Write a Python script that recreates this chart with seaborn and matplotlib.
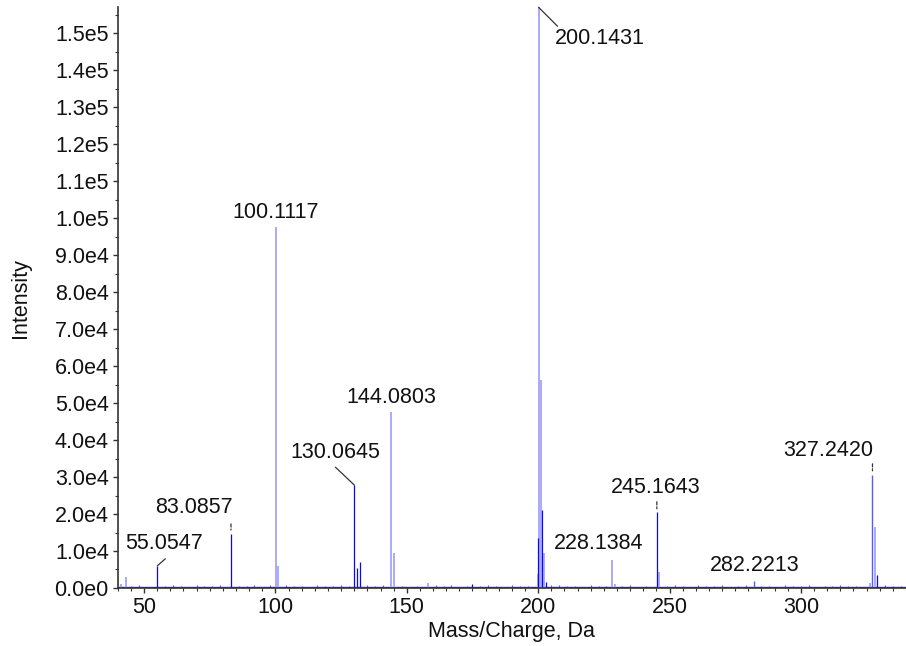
import matplotlib
matplotlib.use('Agg')
import matplotlib.pyplot as plt
from matplotlib.ticker import MultipleLocator, FuncFormatter
import numpy as np
import pandas as pd
import seaborn as sns

# stick spectrum (m/z, intensity, shade of the stick)
peak_mz = [41.1, 43.0, 55.0547, 83.0857, 100.1117, 101.11, 130.0645, 131.07,
           132.07, 144.0803, 145.08, 157.9, 175.0, 199.8, 200.05, 200.1431,
           201.15, 201.3, 202.15, 203.1, 228.1384, 229.14, 245.1643, 246.17,
           282.2213, 326.2, 327.2420, 328.25, 329.0]
peak_int = [1000, 3000, 6000, 14600, 97600, 5900, 27800, 5400,
            7000, 47500, 9400, 1300, 1000, 3800, 13500, 157000,
            56200, 21000, 9500, 1500, 7600, 1200, 20600, 4400,
            2000, 1300, 30600, 16600, 3600]
peak_shade = ['light', 'light', 'dark', 'dark', 'light', 'light', 'dark', 'dark',
              'dark', 'light', 'light', 'light', 'dark', 'light', 'dark', 'light',
              'light', 'dark', 'light', 'dark', 'light', 'light', 'dark', 'light',
              'mid', 'light', 'mid', 'light', 'dark']

# low level noise along the baseline
noise_mz = [45, 48, 52, 58, 61, 64, 67, 70, 73, 76, 79, 86, 89, 92, 95, 98,
            104, 107, 110, 113, 116, 119, 122, 125, 128, 135, 138, 141, 148,
            151, 154, 161, 164, 167, 170, 173, 178, 181, 184, 187, 190, 193,
            196, 205, 208, 211, 214, 217, 220, 223, 226, 232, 235, 238, 241,
            249, 252, 255, 258, 261, 264, 267, 270, 273, 276, 279, 285, 288,
            291, 294, 297, 300, 303, 306, 309, 312, 315, 318, 321, 324, 332,
            335, 338]
noise_int = [500, 700, 400, 600, 800, 500, 400, 900, 600, 500, 700, 600, 500,
             800, 400, 900, 700, 500, 600, 400, 800, 500, 600, 700, 500, 800,
             600, 700, 500, 400, 600, 700, 500, 900, 400, 600, 500, 700, 600,
             400, 800, 500, 600, 900, 700, 500, 600, 400, 700, 500, 600, 500,
             700, 400, 600, 500, 800, 600, 400, 700, 500, 600, 800, 400, 500,
             700, 600, 500, 400, 700, 600, 500, 800, 400, 600, 500, 700, 600,
             500, 400, 800, 600, 500]

# labelled peaks
label_mz = [55.0547, 83.0857, 100.1117, 130.0645, 144.0803, 200.1431,
            228.1384, 245.1643, 282.2213, 327.2420]
label_text = ['55.0547', '83.0857', '100.1117', '130.0645', '144.0803',
              '200.1431', '228.1384', '245.1643', '282.2213', '327.2420']

shade_colors = {'dark': '#0a0af2', 'mid': '#5a5aff', 'light': '#a4a4ff'}
shade_widths = {'dark': 0.9, 'mid': 1.0, 'light': 1.3}

df = pd.DataFrame({'mz': peak_mz, 'intensity': peak_int, 'shade': peak_shade})
df_noise = pd.DataFrame({'mz': noise_mz, 'intensity': noise_int})

sns.set_theme(style="ticks")
plt.rcParams['font.family'] = ['Liberation Sans', 'DejaVu Sans']

fig = plt.figure(figsize=(9.06, 6.46), dpi=100)
ax = fig.add_axes([0.130, 0.0898, 0.870, 0.899])

# noise first, then the sticks on top
ax.vlines(df_noise['mz'], 0, df_noise['intensity'], color='#5a5aff', lw=0.8)
sns.lineplot(x=[40, 340], y=[300, 300], ax=ax, color='#3030f0', lw=1.0)
for shade in ['light', 'mid', 'dark']:
    sub = df[df['shade'] == shade]
    ax.vlines(sub['mz'], 0, sub['intensity'], color=shade_colors[shade],
              lw=shade_widths[shade])

# label placement: text offset (px), connector (start/end offsets in px)
layout = {
    '55.0547': dict(dx=7, dy=22, ha='center', line=(0, 0, 8, 7), dash=False),
    '83.0857': dict(dx=2, dy=26, ha='right', line=(0, 4, 0, 10), dash=True),
    '100.1117': dict(dx=0, dy=14, ha='center', line=None, dash=False),
    '130.0645': dict(dx=-19, dy=33, ha='center', line=(0, 0, -19, 18), dash=False),
    '144.0803': dict(dx=0, dy=15, ha='center', line=None, dash=False),
    '200.1431': dict(dx=16, dy=-31, ha='left', line=(0, 0, 19, -19), dash=False),
    '228.1384': dict(dx=-13, dy=16, ha='center', line=None, dash=False),
    '245.1643': dict(dx=-1, dy=24, ha='center', line=(0, 3, 0, 10), dash=True),
    '282.2213': dict(dx=0, dy=15, ha='center', line=None, dash=False),
    '327.2420': dict(dx=1, dy=24, ha='right', line=(0, 4, 0, 11), dash=True),
}
peak_lookup = dict(zip(df['mz'], df['intensity']))
for mz, txt in zip(label_mz, label_text):
    y = peak_lookup[mz]
    opt = layout[txt]
    ax.annotate(txt, xy=(mz, y), xytext=(opt['dx'], opt['dy']),
                textcoords='offset pixels', ha=opt['ha'], va='center',
                fontsize=15.5, color='#111111')
    if opt['line'] is not None:
        x0, y0, x1, y1 = opt['line']
        ax.annotate('', xy=(mz, y), xytext=(x1, y1), textcoords='offset pixels',
                    arrowprops=dict(arrowstyle='-', color='#333333', lw=0.9,
                                    shrinkA=0, shrinkB=y0 * 0.72,
                                    linestyle=(0, (2.5, 1.5)) if opt['dash'] else '-'))


def sci_label(v, pos):
    if v == 0:
        return '0.0e0'
    e = int(np.floor(np.log10(abs(v)) + 1e-9))
    return f'{v / 10 ** e:.1f}e{e}'


ax.set_xlim(40, 340)
ax.set_ylim(0, 157000)
ax.xaxis.set_major_locator(MultipleLocator(50))
ax.xaxis.set_minor_locator(MultipleLocator(5))
ax.yaxis.set_major_locator(MultipleLocator(10000))
ax.yaxis.set_minor_locator(MultipleLocator(5000))
ax.yaxis.set_major_formatter(FuncFormatter(sci_label))
ax.tick_params(axis='both', which='major', direction='out', length=3.5,
               width=1, color='#333333', labelsize=15.5, pad=3,
               labelcolor='#111111')
ax.tick_params(axis='both', which='minor', direction='out', length=2,
               width=0.8, color='#333333')
for side in ['left', 'bottom']:
    ax.spines[side].set_color('#333333')
    ax.spines[side].set_linewidth(1.2)
sns.despine(ax=ax)

ax.set_xlabel('Mass/Charge, Da', fontsize=15.5, color='#111111', labelpad=2)
ax.set_ylabel('Intensity', fontsize=15.5, color='#111111', labelpad=17)

fig.savefig('out.png', dpi=100)
